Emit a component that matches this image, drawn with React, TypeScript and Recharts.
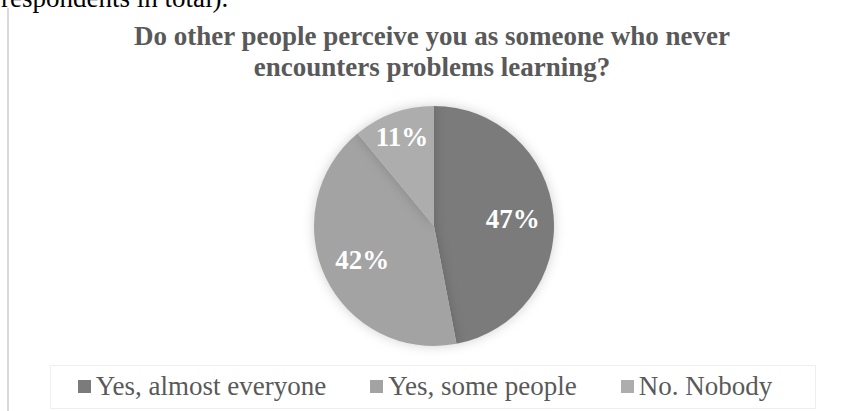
import React from 'react';
import { PieChart, Pie, Cell, Legend } from 'recharts';

const categories = ['Yes, almost everyone', 'Yes, some people', 'No. Nobody'];
const shares = [47, 42, 11];
const colors = ['#7b7b7b', '#a3a3a3', '#adadad'];
const titleLines = ['Do other people perceive you as someone who never', 'encounters problems learning?'];
const topText = 'respondents in total).';

const data = categories.map((name, i) => ({ name, value: shares[i] }));

const FONT = '"Liberation Serif", "Times New Roman", serif';
const RAD = Math.PI / 180;

const renderLabel = (props: any) => {
  const { cx, cy, midAngle, outerRadius, percent, value } = props;
  const r = outerRadius * (percent < 0.2 ? 0.79 : 0.66);
  const x = cx + r * Math.cos(-midAngle * RAD);
  const y = cy + r * Math.sin(-midAngle * RAD);
  return (
    <text x={x} y={y} fill="#ffffff" fontFamily={FONT} fontWeight="bold" fontSize={27}
      textAnchor="middle" dominantBaseline="central">
      {`${value}%`}
    </text>
  );
};

const renderLegend = () => (
  <div style={{ display: 'flex', justifyContent: 'center', alignItems: 'center', gap: 44 }}>
    {categories.map((name, i) => (
      <div key={name} style={{ display: 'flex', alignItems: 'center' }}>
        <span style={{ display: 'inline-block', width: 13, height: 13, background: colors[i], marginRight: 5 }} />
        <span style={{ fontFamily: FONT, fontSize: 27, color: '#595959', lineHeight: '30px' }}>{name}</span>
      </div>
    ))}
  </div>
);

export default function App() {
  return (
    <div style={{ position: 'absolute', left: 0, top: 0, width: 850, height: 411, background: '#fff', overflow: 'hidden' }}>
      <style>{`.recharts-pie-sector { filter: drop-shadow(0px 0px 6px rgba(0,0,0,0.18)); }`}</style>
      <svg width={850} height={411} style={{ position: 'absolute', left: 0, top: 0 }}>
        <text x={1} y={7} fontFamily={FONT} fontSize={27} fill="#000">{topText}</text>
        <rect x={7} y={8} width={2} height={403} fill="#d9d9d9" />
        <rect x={50.5} y={365.5} width={765} height={43} fill="none" stroke="#efefef" />
        {titleLines.map((t, i) => (
          <text key={i} x={432} y={45 + i * 31} textAnchor="middle" fontFamily={FONT} fontWeight="bold" fontSize={27} fill="#595959">{t}</text>
        ))}
      </svg>
      <div style={{ position: 'absolute', left: 0, top: 0 }}>
        <PieChart width={850} height={411} style={{ background: 'transparent' }}>
          <Pie data={data} dataKey="value" nameKey="name" cx={429} cy={221} outerRadius={120}
            startAngle={90} endAngle={-270} stroke="none" label={renderLabel} labelLine={false}
            isAnimationActive={false}>
            {data.map((d, i) => (
              <Cell key={d.name} fill={colors[i]} />
            ))}
          </Pie>
          <Legend content={renderLegend} wrapperStyle={{ position: 'absolute', left: 0, top: 371, width: 850 }} />
        </PieChart>
      </div>
    </div>
  );
}
